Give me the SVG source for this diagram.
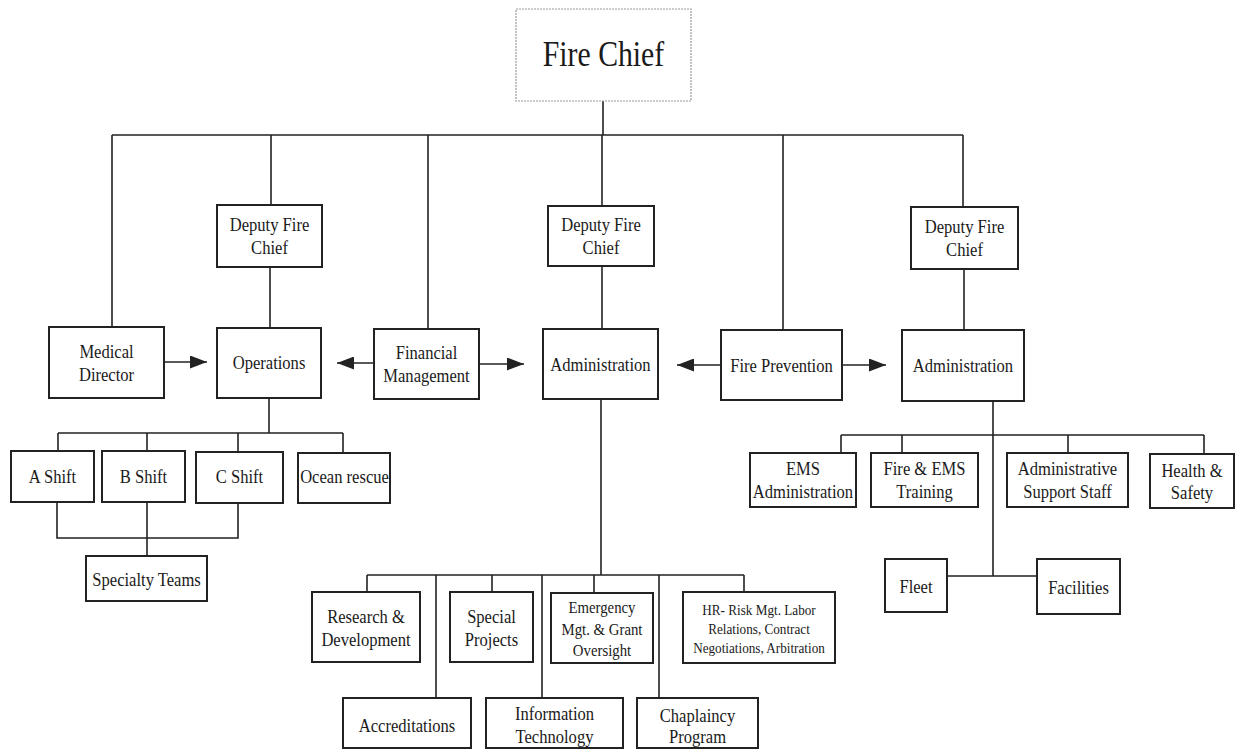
<svg xmlns="http://www.w3.org/2000/svg" width="1235" height="750" viewBox="0 0 1235 750">
<defs>
<style>
.bx{fill:#fff;stroke:#222;stroke-width:2}
.top{fill:#fff;stroke:#9a9a9a;stroke-width:1.2;stroke-dasharray:2 1}
.ln{fill:none;stroke:#222;stroke-width:1.6}
text{font-family:"Liberation Serif","Times New Roman",serif;fill:#1a1a1a;text-anchor:middle;font-size:19.5px}
.sm{font-size:17px}
.xs{font-size:15.5px}
.big{font-size:35px}
</style>
<marker id="ah" markerUnits="userSpaceOnUse" markerWidth="18" markerHeight="13" refX="17" refY="6.5" orient="auto">
<path d="M0,0 L17,6.5 L0,13 z" fill="#222"/>
</marker>
</defs>
<rect width="1235" height="750" fill="#fff"/>
<g id="connectors">
<path class="ln" d="M603,101 V135 M112,135 H963 M112,135 V327 M271,135 V205 M428,135 V329 M602,135 V206 M783,135 V330 M963,135 V207"/>
<path class="ln" d="M270,267 V328 M602,266 V329 M964,269 V330"/>
<path class="ln" d="M269,398 V433 M58,433 H343 M58,433 V451 M147,433 V451 M238,433 V452 M343,433 V453"/>
<path class="ln" d="M57,502 V538 H238 V503 M147,502 V556"/>
<path class="ln" d="M601,399 V575 M367,575 H744 M367,575 V592 M436,575 V698 M492,575 V592 M542,575 V698 M594,575 V593 M659,575 V698 M744,575 V593"/>
<path class="ln" d="M993,401 V576 M947,576 H1037 M841,435 H1204 M841,435 V453 M902,435 V453 M1068,435 V453 M1204,435 V454"/>
<line class="ln" x1="164" y1="362" x2="207" y2="362" marker-end="url(#ah)"/>
<line class="ln" x1="374" y1="363" x2="337" y2="363" marker-end="url(#ah)"/>
<line class="ln" x1="479" y1="364" x2="524" y2="364" marker-end="url(#ah)"/>
<line class="ln" x1="721" y1="365" x2="677" y2="365" marker-end="url(#ah)"/>
<line class="ln" x1="842" y1="365" x2="886" y2="365" marker-end="url(#ah)"/>
</g>
<g id="fire-chief"><rect class="top" x="516" y="9" width="175" height="92"/><text class="big" transform="matrix(0.85 0 0 1 603.5 66)">Fire Chief</text></g>
<g id="deputy-1"><rect class="bx" x="217" y="205" width="105" height="62"/><text transform="matrix(0.85 0 0 1 269.5 231)">Deputy Fire</text><text transform="matrix(0.85 0 0 1 269.5 254)">Chief</text></g>
<g id="deputy-2"><rect class="bx" x="548" y="206" width="106" height="60"/><text transform="matrix(0.85 0 0 1 601 231)">Deputy Fire</text><text transform="matrix(0.85 0 0 1 601 254)">Chief</text></g>
<g id="deputy-3"><rect class="bx" x="911" y="207" width="107" height="62"/><text transform="matrix(0.85 0 0 1 964.5 233)">Deputy Fire</text><text transform="matrix(0.85 0 0 1 964.5 256)">Chief</text></g>
<g id="medical-director"><rect class="bx" x="49" y="327" width="115" height="71"/><text transform="matrix(0.85 0 0 1 106.5 358)">Medical</text><text transform="matrix(0.85 0 0 1 106.5 381)">Director</text></g>
<g id="operations"><rect class="bx" x="217" y="328" width="104" height="70"/><text transform="matrix(0.85 0 0 1 269 369)">Operations</text></g>
<g id="financial-management"><rect class="bx" x="374" y="329" width="105" height="70"/><text transform="matrix(0.85 0 0 1 426.5 359)">Financial</text><text transform="matrix(0.85 0 0 1 426.5 382)">Management</text></g>
<g id="administration-center"><rect class="bx" x="543" y="329" width="115" height="70"/><text transform="matrix(0.85 0 0 1 600.5 371)">Administration</text></g>
<g id="fire-prevention"><rect class="bx" x="721" y="330" width="121" height="70"/><text transform="matrix(0.85 0 0 1 781.5 372)">Fire Prevention</text></g>
<g id="administration-right"><rect class="bx" x="902" y="330" width="122" height="71"/><text transform="matrix(0.85 0 0 1 963 372)">Administration</text></g>
<g id="a-shift"><rect class="bx" x="11" y="451" width="83" height="51"/><text transform="matrix(0.85 0 0 1 52.5 483)">A Shift</text></g>
<g id="b-shift"><rect class="bx" x="102" y="451" width="83" height="51"/><text transform="matrix(0.85 0 0 1 143.5 483)">B Shift</text></g>
<g id="c-shift"><rect class="bx" x="196" y="452" width="87" height="51"/><text transform="matrix(0.85 0 0 1 239.5 483)">C Shift</text></g>
<g id="ocean-rescue"><rect class="bx" x="298" y="453" width="92" height="50"/><text transform="matrix(0.85 0 0 1 344.5 483)">Ocean rescue</text></g>
<g id="specialty-teams"><rect class="bx" x="86" y="556" width="121" height="45"/><text transform="matrix(0.85 0 0 1 146.5 586)">Specialty Teams</text></g>
<g id="ems-administration"><rect class="bx" x="750" y="453" width="106" height="54"/><text transform="matrix(0.85 0 0 1 803 475)">EMS</text><text transform="matrix(0.85 0 0 1 803 498)">Administration</text></g>
<g id="fire-ems-training"><rect class="bx" x="871" y="453" width="107" height="54"/><text transform="matrix(0.85 0 0 1 924.5 475)">Fire &amp; EMS</text><text transform="matrix(0.85 0 0 1 924.5 498)">Training</text></g>
<g id="administrative-support-staff"><rect class="bx" x="1007" y="453" width="121" height="54"/><text transform="matrix(0.85 0 0 1 1067.5 475)">Administrative</text><text transform="matrix(0.85 0 0 1 1067.5 498)">Support Staff</text></g>
<g id="health-safety"><rect class="bx" x="1150" y="454" width="84" height="54"/><text transform="matrix(0.85 0 0 1 1192 477)">Health &amp;</text><text transform="matrix(0.85 0 0 1 1192 499)">Safety</text></g>
<g id="fleet"><rect class="bx" x="885" y="559" width="62" height="53"/><text transform="matrix(0.85 0 0 1 916 593)">Fleet</text></g>
<g id="facilities"><rect class="bx" x="1037" y="559" width="83" height="55"/><text transform="matrix(0.85 0 0 1 1078.5 594)">Facilities</text></g>
<g id="research-development"><rect class="bx" x="312" y="592" width="108" height="70"/><text transform="matrix(0.85 0 0 1 366 623)">Research &amp;</text><text transform="matrix(0.85 0 0 1 366 646)">Development</text></g>
<g id="special-projects"><rect class="bx" x="450" y="592" width="83" height="70"/><text transform="matrix(0.85 0 0 1 491.5 623)">Special</text><text transform="matrix(0.85 0 0 1 491.5 646)">Projects</text></g>
<g id="emergency-mgt"><rect class="bx" x="551" y="593" width="102" height="70"/><text class="sm" transform="matrix(0.87 0 0 1 602 613)">Emergency</text><text class="sm" transform="matrix(0.87 0 0 1 602 635)">Mgt. &amp; Grant</text><text class="sm" transform="matrix(0.87 0 0 1 602 656)">Oversight</text></g>
<g id="hr-risk"><rect class="bx" x="683" y="592" width="152" height="71"/><text class="xs" transform="matrix(0.85 0 0 1 759 615)">HR- Risk Mgt. Labor</text><text class="xs" transform="matrix(0.85 0 0 1 759 634)">Relations, Contract</text><text class="xs" transform="matrix(0.85 0 0 1 759 653)">Negotiations, Arbitration</text></g>
<g id="accreditations"><rect class="bx" x="343" y="698" width="128" height="50"/><text transform="matrix(0.85 0 0 1 407 732)">Accreditations</text></g>
<g id="information-technology"><rect class="bx" x="486" y="698" width="137" height="50"/><text transform="matrix(0.85 0 0 1 554.5 720)">Information</text><text transform="matrix(0.85 0 0 1 554.5 743)">Technology</text></g>
<g id="chaplaincy-program"><rect class="bx" x="637" y="698" width="121" height="50"/><text transform="matrix(0.85 0 0 1 697.5 722)">Chaplaincy</text><text transform="matrix(0.85 0 0 1 697.5 743)">Program</text></g>
</svg>
